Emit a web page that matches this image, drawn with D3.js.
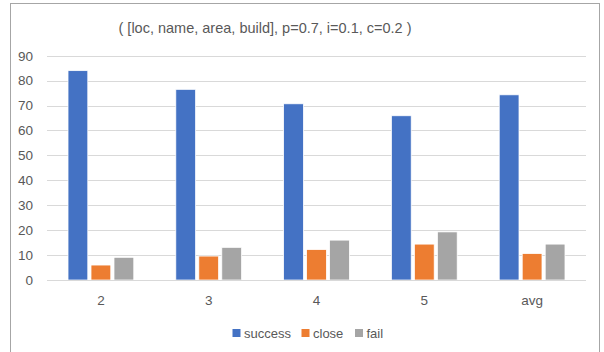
<!DOCTYPE html>
<html>
<head>
<meta charset="utf-8">
<script src="https://cdn.jsdelivr.net/npm/d3@7"></script>
<style>
  html, body { margin: 0; padding: 0; background: #fff; }
  svg { display: block; }
  text { font-family: "Liberation Sans", Arial, sans-serif; fill: #595959; }
</style>
</head>
<body>
<svg id="chart" width="604" height="352"></svg>
<script>
// Chart data
const title = "( [loc, name, area, build], p=0.7, i=0.1, c=0.2 )";
const categories = ["2", "3", "4", "5", "avg"];
const seriesNames = ["success", "close", "fail"];
const successValues = [84.0, 76.5, 70.7, 65.9, 74.3];
const closeValues = [6.0, 9.6, 12.2, 14.4, 10.6];
const failValues = [9.1, 13.1, 16.0, 19.3, 14.4];
const yTicks = [0, 10, 20, 30, 40, 50, 60, 70, 80, 90];
const colors = ["#4472C4", "#ED7D31", "#A5A5A5"];

const series = [successValues, closeValues, failValues];

const svg = d3.select("#chart");

// Chart area frame
svg.append("rect")
  .attr("x", 10.5).attr("y", 3.5)
  .attr("width", 589).attr("height", 360)
  .attr("fill", "none")
  .attr("stroke", "#a6a6a6")
  .attr("stroke-width", 1);

const plot = { left: 47, right: 586, top: 55.7, bottom: 280 };

const x0 = d3.scaleBand()
  .domain(categories)
  .range([plot.left, plot.right])
  .paddingInner(0.39)
  .paddingOuter(0.195);

const x1 = d3.scaleBand()
  .domain(seriesNames)
  .range([0, x0.bandwidth()])
  .paddingInner(0.14);

const y = d3.scaleLinear()
  .domain([0, 90])
  .range([plot.bottom, plot.top]);

// Horizontal gridlines
svg.append("g")
  .selectAll("line")
  .data(yTicks)
  .join("line")
  .attr("x1", plot.left)
  .attr("x2", plot.right)
  .attr("y1", d => Math.round(y(d)) + 0.5)
  .attr("y2", d => Math.round(y(d)) + 0.5)
  .attr("stroke", "#d9d9d9")
  .attr("stroke-width", 1);

// Y axis labels
const yAxis = d3.axisLeft(y).tickValues(yTicks).tickSize(0).tickPadding(0);
const yG = svg.append("g")
  .attr("transform", `translate(${33},0)`)
  .call(yAxis);
yG.select(".domain").remove();
yG.selectAll("text")
  .attr("fill", "#595959")
  .style("font-size", "13.5px")
  .style("font-family", "'Liberation Sans', Arial, sans-serif");

// Bars
const groups = svg.append("g")
  .selectAll("g")
  .data(categories)
  .join("g")
  .attr("transform", d => `translate(${x0(d)},0)`);

groups.selectAll("rect")
  .data((c, ci) => seriesNames.map((s, si) => ({ s, si, v: series[si][ci] })))
  .join("rect")
  .attr("x", d => x1(d.s))
  .attr("y", d => y(d.v))
  .attr("width", x1.bandwidth())
  .attr("height", d => y(0) - y(d.v))
  .attr("fill", d => colors[d.si])
  .attr("stroke", "#ffffff")
  .attr("stroke-width", 0.75);

// Zero baseline redrawn on top
svg.append("line")
  .attr("x1", plot.left).attr("x2", plot.right)
  .attr("y1", Math.round(y(0)) + 0.5).attr("y2", Math.round(y(0)) + 0.5)
  .attr("stroke", "#d9d9d9");

// X axis labels
const xAxis = d3.axisBottom(x0).tickSize(0).tickPadding(0);
const xG = svg.append("g")
  .attr("transform", `translate(0,${305})`)
  .call(xAxis);
xG.select(".domain").remove();
xG.selectAll("text")
  .attr("dy", 0)
  .attr("fill", "#595959")
  .style("font-size", "13.5px")
  .style("font-family", "'Liberation Sans', Arial, sans-serif");

// Title
svg.append("text")
  .attr("x", 265)
  .attr("y", 33)
  .attr("text-anchor", "middle")
  .style("font-size", "14.5px")
  .text(title);

// Legend
const legendItems = [
  { name: "success", sx: 232.5 },
  { name: "close", sx: 301.5 },
  { name: "fail", sx: 355 }
];
const lg = svg.append("g");
legendItems.forEach((d, i) => {
  lg.append("rect")
    .attr("x", d.sx).attr("y", 329)
    .attr("width", 8).attr("height", 8)
    .attr("fill", colors[i]);
  lg.append("text")
    .attr("x", d.sx + 11.5).attr("y", 337.5)
    .style("font-size", "13px")
    .text(d.name);
});
</script>
</body>
</html>
